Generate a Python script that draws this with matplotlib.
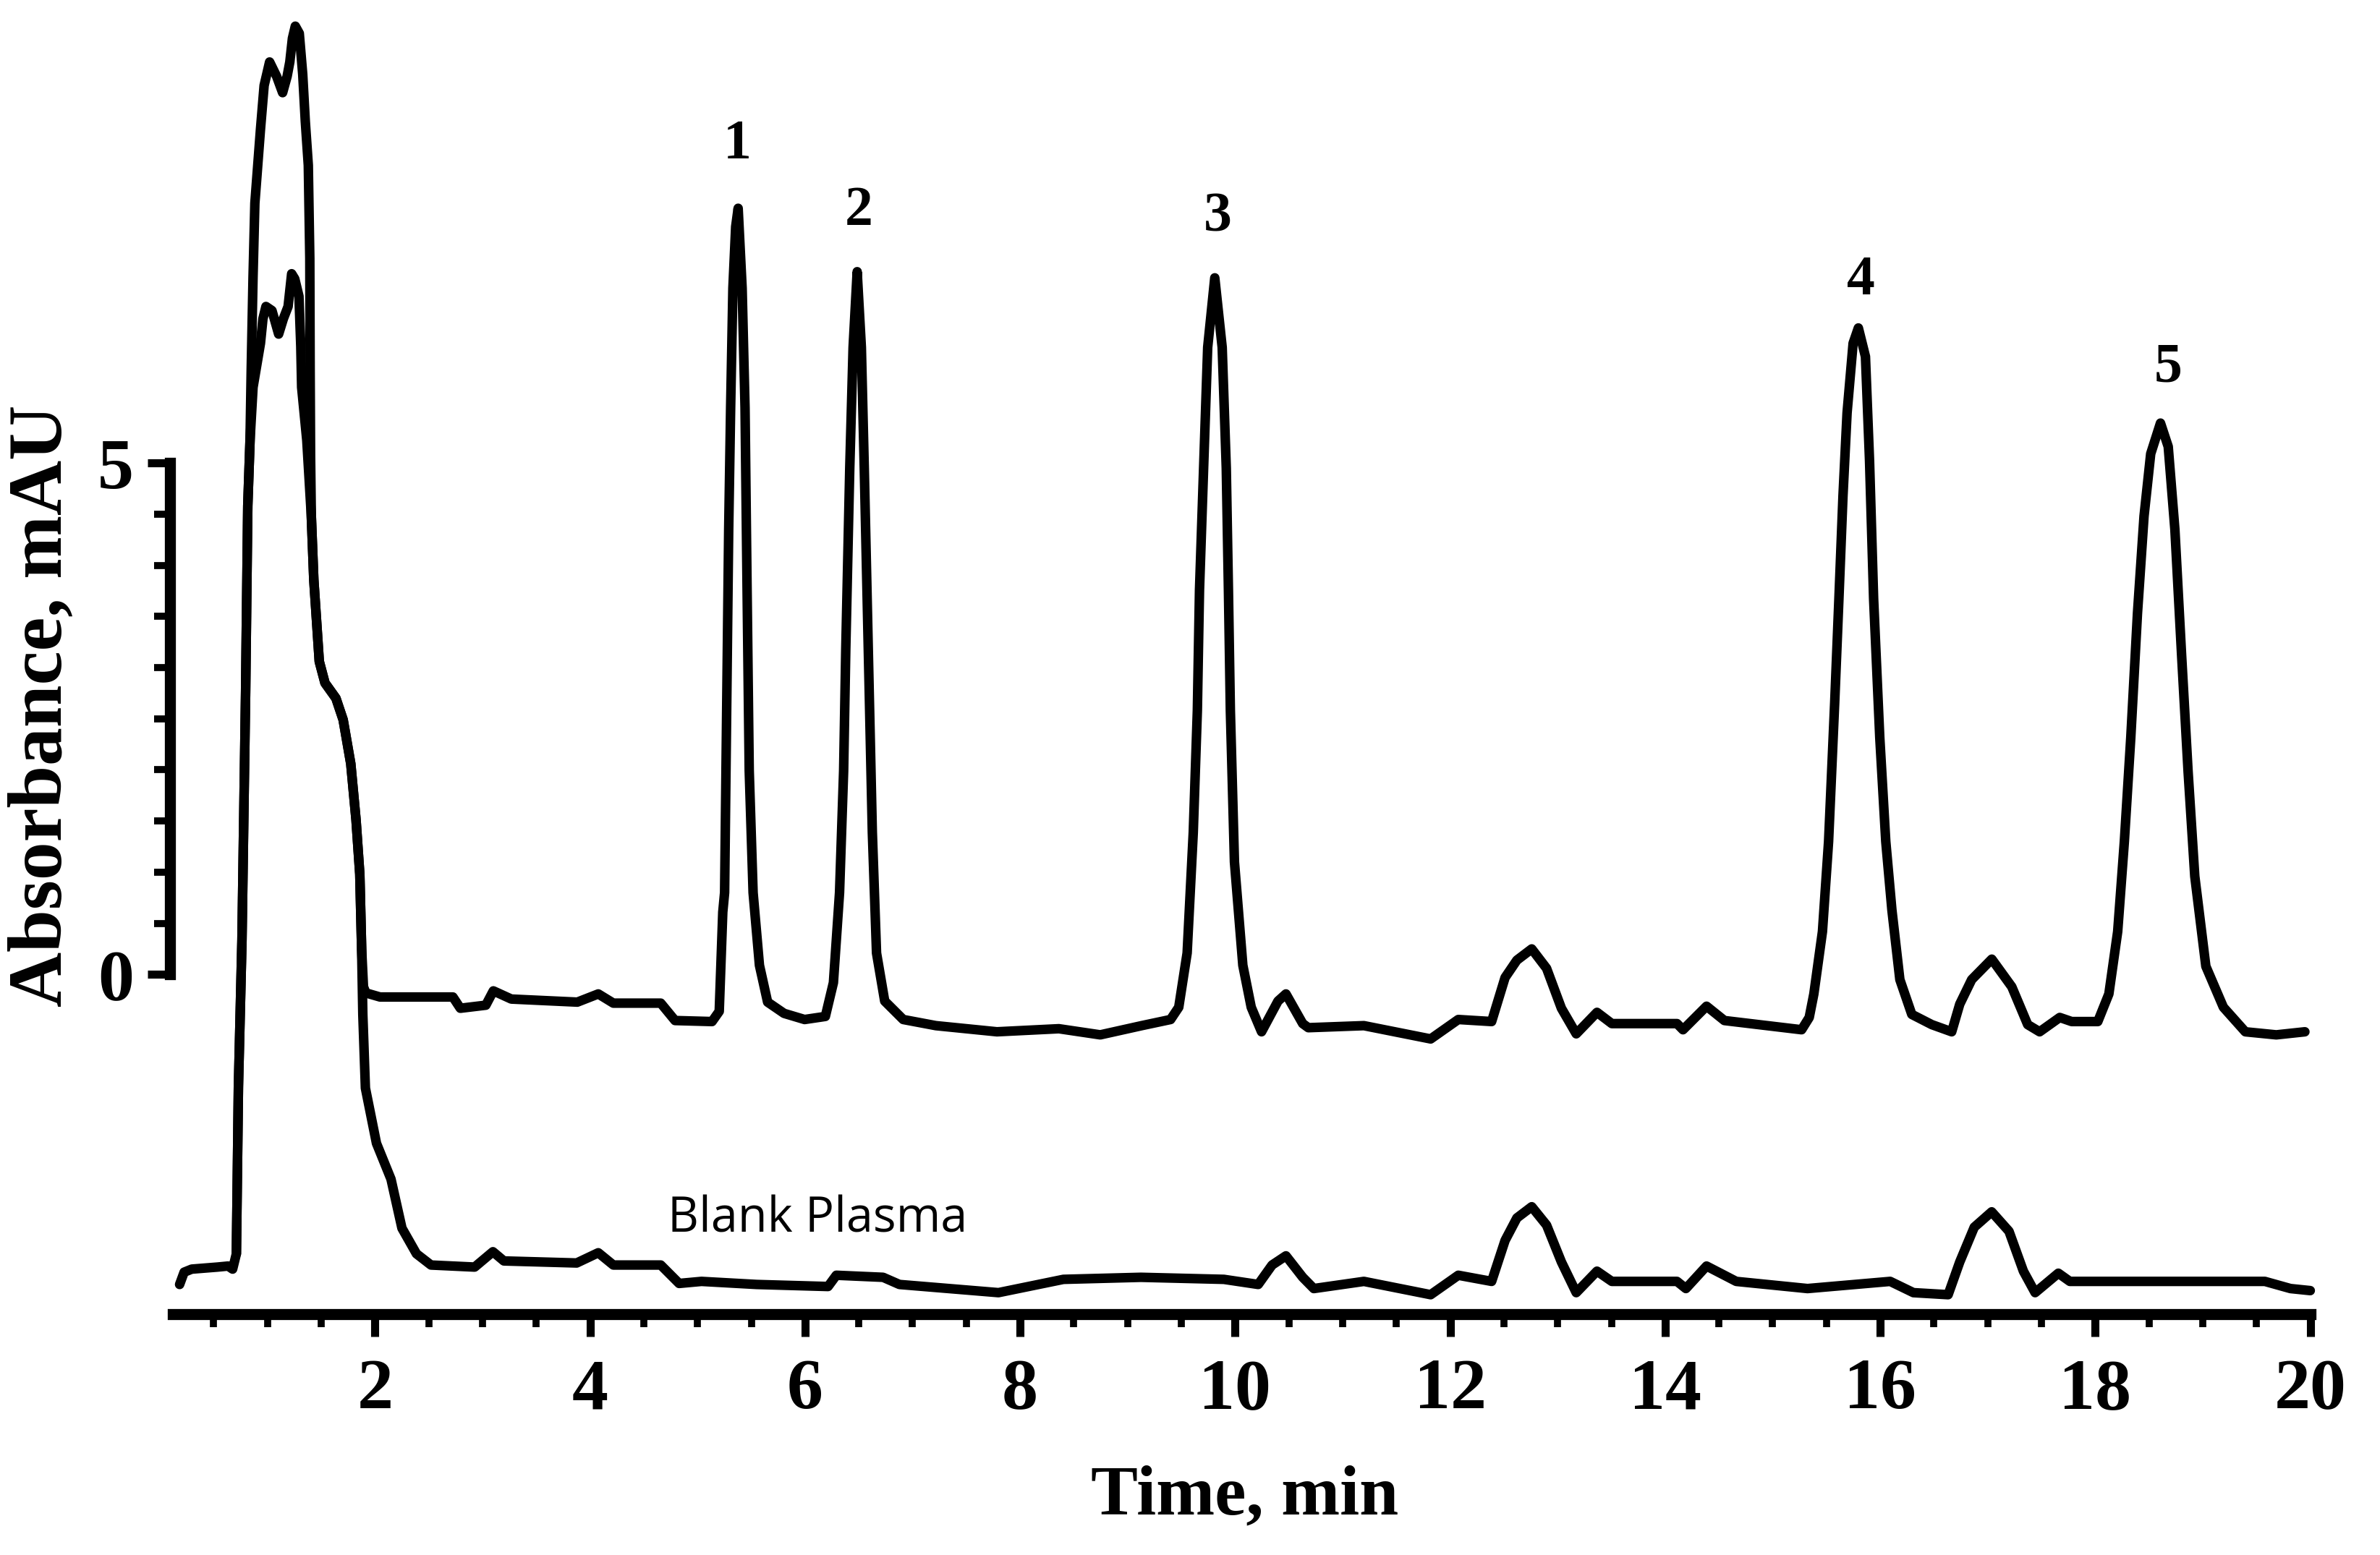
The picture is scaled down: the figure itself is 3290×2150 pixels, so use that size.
import matplotlib
matplotlib.use("Agg")
import matplotlib.pyplot as plt
from matplotlib.ticker import MultipleLocator, FixedLocator

# sample chromatogram (time in min, absorbance in mAU)
sample_time = [0.711, 0.730, 0.763, 0.797, 0.817, 0.838, 0.849, 0.866, 0.883, 0.935,
               0.969, 1.020, 1.085, 1.141, 1.183, 1.208, 1.232, 1.259, 1.296, 1.328,
               1.352, 1.380, 1.394, 1.397, 1.401, 1.408, 1.431, 1.482, 1.535, 1.637,
               1.704, 1.775, 1.824, 1.859, 1.876, 1.893, 1.915, 2.047, 2.725, 2.794,
               3.031, 3.101, 3.268, 3.882, 4.077, 4.217, 4.658, 4.791, 5.135, 5.202,
               5.235, 5.252, 5.271, 5.290, 5.308, 5.329, 5.355, 5.378, 5.415, 5.442,
               5.461, 5.481, 5.517, 5.576, 5.652, 5.805, 5.996, 6.189, 6.264, 6.321,
               6.359, 6.379, 6.416, 6.447, 6.485, 6.524, 6.551, 6.588, 6.626, 6.665,
               6.741, 6.913, 7.217, 7.785, 8.361, 8.746, 9.131, 9.400, 9.476, 9.554,
               9.611, 9.649, 9.669, 9.707, 9.745, 9.811, 9.880, 9.918, 9.938, 9.956,
               9.994, 10.072, 10.150, 10.246, 10.399, 10.473, 10.629, 10.681, 11.198, 11.819,
               12.076, 12.386, 12.511, 12.621, 12.759, 12.897, 13.035, 13.173, 13.366, 13.504,
               14.110, 14.166, 14.385, 14.551, 15.269, 15.340, 15.383, 15.463, 15.520, 15.577,
               15.616, 15.654, 15.692, 15.748, 15.797, 15.863, 15.901, 15.939, 15.996, 16.052,
               16.109, 16.183, 16.294, 16.480, 16.665, 16.740, 16.851, 17.038, 17.224, 17.372,
               17.483, 17.670, 17.781, 18.024, 18.127, 18.209, 18.271, 18.331, 18.393, 18.454,
               18.516, 18.607, 18.679, 18.741, 18.803, 18.864, 18.926, 19.029, 19.192, 19.396,
               19.684, 19.950]
sample_abs = [-2.73, -1.10, 0.34, 2.77, 4.58, 5.22, 5.92, 6.82, 7.54, 8.26,
              8.69, 8.92, 8.78, 8.62, 8.78, 8.92, 9.15, 9.27, 9.20, 8.80,
              8.34, 7.91, 7.00, 5.92, 5.07, 4.48, 3.86, 3.06, 2.85, 2.70,
              2.49, 2.06, 1.51, 0.98, 0.25, -0.12, -0.18, -0.22, -0.22, -0.33,
              -0.30, -0.16, -0.24, -0.27, -0.19, -0.28, -0.28, -0.45, -0.46, -0.36,
              0.61, 0.80, 2.58, 4.35, 5.54, 6.71, 7.31, 7.49, 6.71, 5.54,
              3.77, 1.99, 0.80, 0.09, -0.27, -0.38, -0.44, -0.41, -0.08, 0.80,
              1.99, 3.18, 4.95, 6.13, 6.87, 6.13, 4.95, 3.18, 1.39, 0.21,
              -0.26, -0.44, -0.50, -0.56, -0.53, -0.59, -0.50, -0.44, -0.32, 0.21,
              1.39, 2.58, 3.76, 4.95, 6.13, 6.81, 6.13, 4.95, 3.76, 2.58,
              1.10, 0.09, -0.32, -0.56, -0.26, -0.19, -0.48, -0.52, -0.50, -0.63,
              -0.44, -0.46, -0.03, 0.14, 0.25, 0.06, -0.33, -0.58, -0.37, -0.48,
              -0.48, -0.54, -0.31, -0.45, -0.54, -0.42, -0.19, 0.42, 1.30, 2.66,
              3.67, 4.68, 5.49, 6.17, 6.32, 6.04, 5.02, 3.67, 2.32, 1.30,
              0.63, -0.05, -0.39, -0.49, -0.56, -0.29, -0.05, 0.15, -0.12, -0.49,
              -0.56, -0.42, -0.46, -0.46, -0.19, 0.42, 1.30, 2.32, 3.53, 4.48,
              5.09, 5.39, 5.16, 4.35, 3.13, 1.98, 0.96, 0.08, -0.32, -0.56,
              -0.59, -0.56]

# blank plasma chromatogram
blank_time = [0.183, 0.225, 0.296, 0.535, 0.634, 0.676, 0.711, 0.730, 0.763, 0.797,
              0.817, 0.838, 0.866, 0.935, 0.958, 0.986, 1.042, 1.104, 1.148, 1.192,
              1.225, 1.254, 1.293, 1.310, 1.318, 1.366, 1.408, 1.431, 1.482, 1.535,
              1.637, 1.704, 1.775, 1.824, 1.859, 1.876, 1.887, 1.911, 2.014, 2.149,
              2.251, 2.386, 2.521, 2.927, 3.097, 3.199, 3.876, 4.077, 4.217, 4.658,
              4.829, 5.037, 5.550, 6.214, 6.291, 6.726, 6.878, 7.799, 8.403, 9.124,
              9.896, 10.215, 10.344, 10.473, 10.629, 10.732, 11.198, 11.819, 12.076, 12.386,
              12.511, 12.621, 12.759, 12.897, 13.035, 13.173, 13.366, 13.504, 14.110, 14.193,
              14.385, 14.661, 15.324, 16.093, 16.309, 16.632, 16.740, 16.875, 17.037, 17.198,
              17.332, 17.441, 17.657, 17.764, 18.510, 19.578, 19.816, 20.0]
blank_abs = [-3.03, -2.91, -2.88, -2.86, -2.85, -2.88, -2.73, -1.10, 0.34, 2.77,
             4.58, 5.22, 5.74, 6.17, 6.41, 6.53, 6.49, 6.26, 6.41, 6.53,
             6.85, 6.80, 6.63, 6.14, 5.74, 5.22, 4.48, 3.86, 3.06, 2.85,
             2.70, 2.49, 2.06, 1.51, 0.98, 0.25, -0.39, -1.11, -1.65, -2.00,
             -2.48, -2.73, -2.84, -2.86, -2.71, -2.80, -2.82, -2.72, -2.84, -2.84,
             -3.02, -3.00, -3.03, -3.05, -2.94, -2.96, -3.03, -3.11, -2.98, -2.96,
             -2.98, -3.03, -2.84, -2.75, -2.96, -3.07, -3.00, -3.13, -2.94, -3.00,
             -2.60, -2.38, -2.27, -2.45, -2.81, -3.11, -2.90, -3.00, -3.00, -3.07,
             -2.85, -3.00, -3.07, -3.00, -3.11, -3.13, -2.81, -2.47, -2.32, -2.51,
             -2.90, -3.11, -2.92, -3.00, -3.00, -3.00, -3.07, -3.09]

peak_labels = ["1", "2", "3", "4", "5"]
peak_label_time = [5.367, 6.503, 9.840, 15.824, 18.681]
peak_label_abs = [8.11, 7.46, 7.40, 6.78, 5.93]

x_ticks = [2, 4, 6, 8, 10, 12, 14, 16, 18, 20]
y_ticks = [0, 5]

serif = ["Liberation Serif", "DejaVu Serif"]

fig = plt.figure(figsize=(32.91, 21.5), dpi=100)
fig.patch.set_facecolor("white")
ax = fig.add_axes([0.0726, 0.1549, 0.8978, 0.8434])

lw = 9.5
ax.plot(blank_time, blank_abs, color="black", lw=lw,
        solid_joinstyle="round", solid_capstyle="round", clip_on=False)
ax.plot(sample_time, sample_abs, color="black", lw=lw,
        solid_joinstyle="round", solid_capstyle="round", clip_on=False)

for lab, t, a in zip(peak_labels, peak_label_time, peak_label_abs):
    ax.text(t, a, lab, ha="center", va="center", fontsize=56,
            fontweight="bold", family=serif)

ax.text(6.113, -2.39, "Blank Plasma", ha="center", va="center",
        fontsize=48, family=["Open Sans", "DejaVu Sans"])

ax.set_xlim(0.12, 20)
ax.set_ylim(-3.32, 9.5)

# spines: only a bottom time axis and a short 0-5 mAU scale bar
for s in ["top", "right"]:
    ax.spines[s].set_visible(False)
ax.spines["bottom"].set_linewidth(11)
ax.spines["left"].set_linewidth(11)
ax.spines["left"].set_bounds(0, 5)
ax.spines["left"].set_position(("outward", 3))

ax.xaxis.set_major_locator(FixedLocator(x_ticks))
ax.xaxis.set_minor_locator(MultipleLocator(0.5))
ax.yaxis.set_major_locator(FixedLocator(y_ticks))
ax.yaxis.set_minor_locator(FixedLocator([v * 0.5 for v in range(1, 10)]))

ax.tick_params(axis="x", which="major", direction="out", length=22, width=8,
               pad=22, labelsize=72)
ax.tick_params(axis="x", which="minor", direction="out", length=13, width=7)
ax.tick_params(axis="y", which="major", direction="out", length=22, width=8,
               pad=14, labelsize=72)
ax.tick_params(axis="y", which="minor", direction="out", length=16, width=7)
for lab in ax.get_xticklabels() + ax.get_yticklabels():
    lab.set_fontweight("bold")
    lab.set_family(serif)

fig.text(1721 / 3291, 1 - 2070 / 2150, "Time, min", ha="center", va="center",
         fontsize=70, fontweight="bold", family=serif)
fig.text(59 / 3291, 1 - 976 / 2150, "Absorbance, mAU", ha="center", va="center",
         rotation=90, fontsize=76, fontweight="bold", family=serif)

fig.savefig("out.png", dpi=100, facecolor="white")
